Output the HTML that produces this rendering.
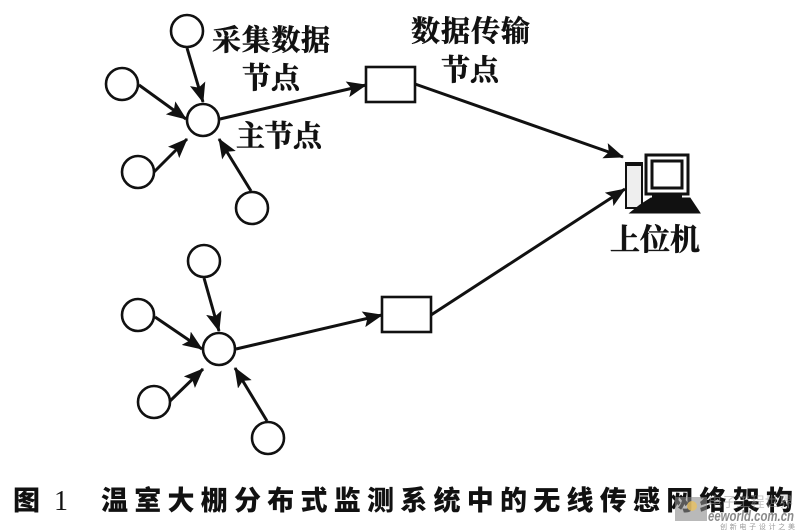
<!DOCTYPE html>
<html>
<head>
<meta charset="utf-8">
<style>
html,body{margin:0;padding:0;background:#fff;}
svg{display:block;}
text{fill:#111;}
.l{font-family:"Liberation Serif","Noto Serif CJK SC",serif;font-size:29px;font-weight:700;stroke:#111;stroke-width:.5px;}
.c{font-family:"Liberation Sans","Noto Sans CJK SC",sans-serif;font-size:27px;font-weight:900;}
</style>
</head>
<body>
<svg width="801" height="530" viewBox="0 0 801 530" xmlns="http://www.w3.org/2000/svg">
<defs>
<marker id="a" viewBox="0 0 20 16" refX="19" refY="8" markerWidth="20" markerHeight="16" markerUnits="userSpaceOnUse" orient="auto">
<path d="M0 0L20 8L0 16L4 8Z" fill="#111"/>
</marker>
</defs>
<rect width="801" height="530" fill="#fff"/>
<g fill="none" stroke="#111" stroke-width="2.6">
<circle cx="187" cy="31" r="16"/>
<circle cx="122" cy="84" r="16"/>
<circle cx="203" cy="120" r="16"/>
<circle cx="138" cy="172" r="16"/>
<circle cx="252" cy="208" r="16"/>
<circle cx="204" cy="261" r="16"/>
<circle cx="138" cy="315" r="16"/>
<circle cx="219" cy="349" r="16"/>
<circle cx="154" cy="402" r="16"/>
<circle cx="268" cy="438" r="16"/>
<rect x="366" y="67" width="49" height="35"/>
<rect x="382" y="297" width="49" height="35"/>
</g>
<g fill="none" stroke="#111" stroke-width="3">
<line x1="187" y1="48" x2="203" y2="102" marker-end="url(#a)"/>
<line x1="139" y1="85" x2="186" y2="119" marker-end="url(#a)"/>
<line x1="154" y1="172" x2="187" y2="139" marker-end="url(#a)"/>
<line x1="251" y1="191" x2="219" y2="139" marker-end="url(#a)"/>
<line x1="220" y1="119" x2="366" y2="85" marker-end="url(#a)"/>
<line x1="415" y1="84" x2="623" y2="157" marker-end="url(#a)"/>
<line x1="204" y1="278" x2="219" y2="331" marker-end="url(#a)"/>
<line x1="155" y1="317" x2="202" y2="349" marker-end="url(#a)"/>
<line x1="170" y1="401" x2="203" y2="369" marker-end="url(#a)"/>
<line x1="267" y1="421" x2="235" y2="368" marker-end="url(#a)"/>
<line x1="236" y1="349" x2="382" y2="315" marker-end="url(#a)"/>
<line x1="431" y1="315" x2="625" y2="189" marker-end="url(#a)"/>
</g>
<!-- computer -->
<g stroke="#111" fill="#fff">
<rect x="626" y="163" width="16" height="45" stroke-width="2" fill="#eee"/>
<rect x="626" y="162" width="16" height="4" fill="#111" stroke="none"/>
<rect x="646" y="155" width="42" height="39" stroke-width="3"/>
<rect x="652" y="161" width="30" height="27" stroke-width="3"/>
<path d="M640 205L651 198H690L700 213H630Z" fill="#111" stroke-width="1"/>
<rect x="652" y="194" width="30" height="4" fill="#111" stroke="none"/>
</g>
<text class="l" x="212" y="50" textLength="118">采集数据</text>
<text class="l" x="242" y="88" textLength="58">节点</text>
<text class="l" x="236" y="146" textLength="86">主节点</text>
<text class="l" x="411" y="41" textLength="119">数据传输</text>
<text class="l" x="441" y="80" textLength="58">节点</text>
<text class="l" x="610" y="250" textLength="90" style="font-size:30px">上位机</text>
<text class="c" x="13" y="510">图</text>
<text x="54" y="510" style="font-size:28px;font-family:'Liberation Serif',serif">1</text>
<text class="c" x="101" y="510" textLength="692" lengthAdjust="spacing">温室大棚分布式监测系统中的无线传感网络架构</text>
<!-- watermark -->
<g>
<rect x="675" y="497" width="32" height="24" fill="#8a8a8a" opacity=".6"/>
<circle cx="692" cy="506" r="5" fill="#e8c060" opacity=".8"/>
<text x="708" y="507" textLength="85" style="font-family:'Liberation Sans','Noto Sans CJK SC',sans-serif;font-size:14px;fill:#999;opacity:.55">电子工程世界</text>
<text x="708" y="521" textLength="86" lengthAdjust="spacingAndGlyphs" style="font-family:'Liberation Sans',sans-serif;font-size:15px;font-weight:700;font-style:italic;fill:#8a8a8a">eeworld.com.cn</text>
<text x="720" y="529" textLength="75" style="font-family:'Liberation Sans','Noto Sans CJK SC',sans-serif;font-size:7px;fill:#999">创新电子设计之美</text>
</g>
</svg>
</body>
</html>
